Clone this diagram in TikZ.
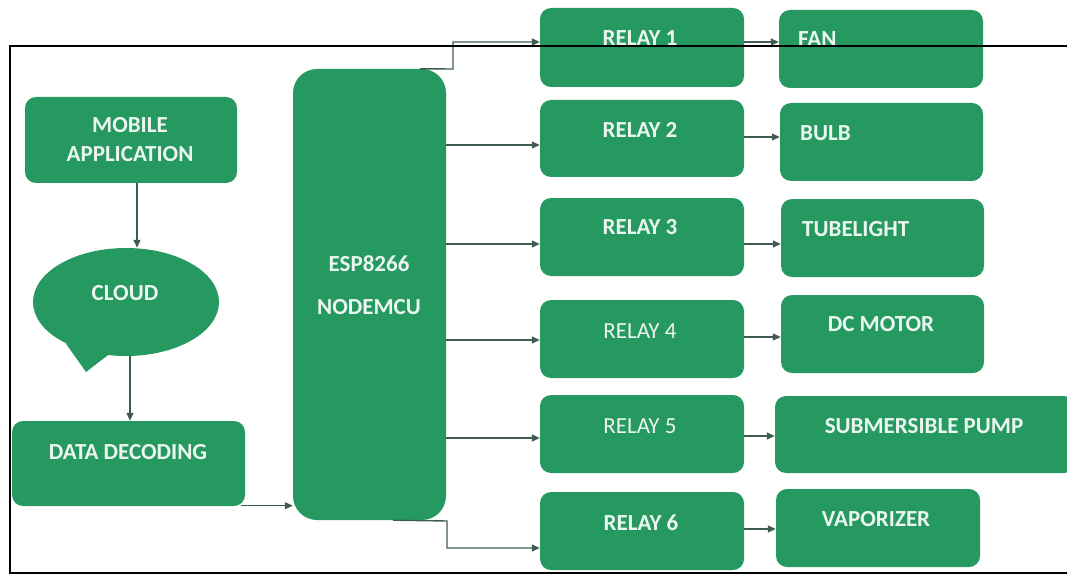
\documentclass[tikz,border=0pt]{standalone}
\usepackage{fontspec}
\setmainfont{Carlito}
\usetikzlibrary{arrows.meta,shapes.geometric}
\definecolor{boxgreen}{RGB}{38,153,96}
\definecolor{linegray}{RGB}{62,92,82}
\definecolor{txtwhite}{RGB}{236,246,240}
\tikzset{
  gbox/.style={draw=none,fill=boxgreen,rounded corners=11pt,inner sep=0pt},
  btxt/.style={text=txtwhite,font=\fontsize{23}{26}\selectfont\bfseries,inner sep=0pt},
  rtxt/.style={text=txtwhite,font=\fontsize{23}{26}\selectfont,inner sep=0pt},
  arr/.style={draw=linegray,line width=1.4pt,-{Triangle[length=8pt,width=7pt]}},
  frame/.style={draw=black,line width=1.5pt}
}
\begin{document}
\begin{tikzpicture}[x=1pt,y=-1pt]
\useasboundingbox (0,0) rectangle (1067,580);
% left column
\node[gbox,minimum width=212pt,minimum height=86pt] (mob) at (131,140) {};
\node[btxt,align=center] (mobt1) at (130,125) {MOBILE};
\node[btxt,align=center] (mobt2) at (130,154) {APPLICATION};
\node[ellipse,fill=boxgreen,draw=none,minimum width=186pt,minimum height=108pt,inner sep=0pt] (cloud) at (126,302) {};
\fill[boxgreen] (62,338) -- (86,372) -- (112,352) -- cycle;
\node[btxt] (cloudt) at (125,293) {CLOUD};
\node[gbox,minimum width=233pt,minimum height=85pt] (data) at (128.5,463.5) {};
\node[btxt] (datat) at (128,452) {DATA DECODING};
% controller
\node[gbox,rounded corners=24pt,minimum width=153pt,minimum height=451pt] (esp) at (369.5,294.5) {};
\node[btxt] (espt1) at (369,264) {ESP8266};
\node[btxt] (espt2) at (369,307) {NODEMCU};
% relays
\node[gbox,minimum width=204pt,minimum height=79pt] (r1) at (642,47.5) {};
\node[gbox,minimum width=204pt,minimum height=77pt] (r2) at (642,138.5) {};
\node[gbox,minimum width=204pt,minimum height=78pt] (r3) at (642,237) {};
\node[gbox,minimum width=204pt,minimum height=78pt] (r4) at (642,339) {};
\node[gbox,minimum width=204pt,minimum height=78pt] (r5) at (642,434) {};
\node[gbox,minimum width=204pt,minimum height=78pt] (r6) at (642,531) {};
\node[btxt] (r1t) at (640,38) {RELAY 1};
\node[btxt] (r2t) at (640,130) {RELAY 2};
\node[btxt] (r3t) at (640,227) {RELAY 3};
\node[rtxt] (r4t) at (640,331) {RELAY 4};
\node[rtxt] (r5t) at (640,426) {RELAY 5};
\node[btxt] (r6t) at (641,523) {RELAY 6};
% devices
\node[gbox,minimum width=204pt,minimum height=78pt] (fan) at (881,49) {};
\node[gbox,minimum width=203pt,minimum height=78pt] (bulb) at (881.5,142) {};
\node[gbox,minimum width=203pt,minimum height=78pt] (tube) at (882.5,238) {};
\node[gbox,minimum width=203pt,minimum height=78pt] (dcm) at (882.5,334) {};
\node[gbox,minimum width=300pt,minimum height=77pt] (pump) at (925,434.5) {};
\node[gbox,minimum width=204pt,minimum height=78pt] (vap) at (878,528) {};
\node[btxt,anchor=west] (fant) at (798,39) {FAN};
\node[btxt,anchor=west] (bulbt) at (800,133) {BULB};
\node[btxt,anchor=west] (tubet) at (802,229) {TUBELIGHT};
\node[btxt] (dcmt) at (881,324) {DC MOTOR};
\node[btxt] (pumpt) at (924,426) {SUBMERSIBLE PUMP};
\node[btxt] (vapt) at (876,519) {VAPORIZER};
% connectors
\draw[arr] ([xshift=6pt]mob.south) -- ([xshift=6pt]mob.south |- cloud.north);
\draw[arr] ([xshift=4pt]cloud.south) -- ([xshift=4pt]cloud.south |- data.north);
\draw[arr] ([xshift=-4pt,yshift=0.5pt]data.south east) -- ([yshift=0.5pt]data.south east -| esp.west);
\coordinate (j1) at (453,69);
\draw[arr] ([xshift=-26pt]esp.north east) -- (j1) |- ([yshift=5.5pt]r1.west);
\draw[arr] ([yshift=-6.5pt]r2.west -| esp.east) -- ([yshift=-6.5pt]r2.west);
\draw[arr] ([yshift=-7pt]r3.west -| esp.east) -- ([yshift=-7pt]r3.west);
\draw[arr] ([yshift=-1pt]r4.west -| esp.east) -- ([yshift=-1pt]r4.west);
\draw[arr] ([yshift=-4pt]r5.west -| esp.east) -- ([yshift=-4pt]r5.west);
\coordinate (j6) at (447,521);
\draw[arr] ([xshift=-53pt]esp.south east) -- (j6) |- ([yshift=-17pt]r6.west);
\draw[arr] ([yshift=5.5pt]r1.east) -- ([yshift=5.5pt]r1.east -| fan.west);
\draw[arr] ([yshift=1.5pt]r2.east) -- ([yshift=1.5pt]r2.east -| bulb.west);
\draw[arr] ([yshift=-7pt]r3.east) -- ([yshift=-7pt]r3.east -| tube.west);
\draw[arr] ([yshift=2pt]r4.east) -- ([yshift=2pt]r4.east -| dcm.west);
\draw[arr] ([yshift=-2pt]r5.east) -- ([yshift=-2pt]r5.east -| pump.west);
\draw[arr] ([yshift=2pt]r6.east) -- ([yshift=2pt]r6.east -| vap.west);
% frame
\draw[frame] (1070,46) -- (10,46) -- (10,573) -- (1070,573);
\end{tikzpicture}
\end{document}
